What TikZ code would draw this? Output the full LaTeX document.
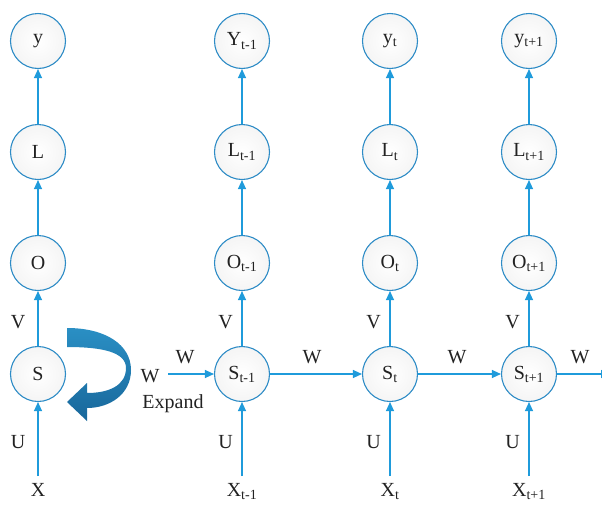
\documentclass[tikz,border=0pt]{standalone}
\usepackage{fontspec}
\setmainfont{Liberation Serif}
\usetikzlibrary{arrows.meta}
\definecolor{lineblue}{HTML}{1F9BDB}
\definecolor{circblue}{HTML}{2E8CC6}
\definecolor{txt}{HTML}{222222}
\definecolor{bigtop}{HTML}{2A8FC4}
\definecolor{bigbot}{HTML}{18679B}
\tikzset{
  unit/.style={circle, draw=circblue, line width=1.1pt, minimum size=55pt, inner sep=0pt,
    inner color=white, outer color=black!4, text=txt, font=\fontsize{20}{22}\selectfont},
  arr/.style={draw=lineblue, line width=1.2pt, -{Triangle[length=9pt,width=8pt]}},
  lab/.style={anchor=base, text=txt, inner sep=0pt, font=\fontsize{20}{22}\selectfont},
}
\begin{document}
\begin{tikzpicture}[x=1pt,y=-1pt]
\useasboundingbox (0,0) rectangle (602,504);
% left folded column
\node[unit] (y0) at (38,41) {y};
\node[unit] (L0) at (38,152) {L};
\node[unit] (O0) at (38,263) {O};
\node[unit] (S0) at (38,374) {S};
% unfolded columns
\foreach \n/\x/\Yl/\s in {a/242/Y/t-1, b/390/y/t, c/529/y/t+1}{
  \node[unit] (y\n) at (\x,41) {\Yl\textsubscript{\s}};
  \node[unit] (L\n) at (\x,152) {L\textsubscript{\s}};
  \node[unit] (O\n) at (\x,263) {O\textsubscript{\s}};
  \node[unit] (S\n) at (\x,374) {S\textsubscript{\s}};
  \node[lab] (X\n) at (\x,496) {X\textsubscript{\s}};
  \coordinate (in\n) at (\x,476);
  \node[lab] (V\n) at (\x-16.5,328) {V};
  \node[lab] (U\n) at (\x-16.5,448) {U};
  \draw[arr] (in\n) -- (S\n);
  \draw[arr] (S\n) -- (O\n);
  \draw[arr] (O\n) -- (L\n);
  \draw[arr] (L\n) -- (y\n);
}
\node[lab] (X0) at (38,496) {X};
\coordinate (in0) at (38,476);
\node[lab] (V0) at (18,328) {V};
\node[lab] (U0) at (18,448) {U};
\draw[arr] (in0) -- (S0);
\draw[arr] (S0) -- (O0);
\draw[arr] (O0) -- (L0);
\draw[arr] (L0) -- (y0);
% recurrent fold arrow
\shade[top color=bigtop, bottom color=bigbot]
  (67,328) .. controls (106,328) and (131,345) .. (131,370)
  .. controls (131,394) and (110,408) .. (87,408)
  -- (87,421) -- (67,402) -- (87,383) -- (87,393)
  .. controls (108,393) and (126,386) .. (126,368)
  .. controls (126,352) and (102,347) .. (67,347) -- cycle;
\node[lab] (Wf) at (150,382) {W};
\node[lab] (Ex) at (173,408) {Expand};
% horizontal connections
\coordinate (win) at (168,374);
\coordinate (wout) at (610,374);
\draw[arr] (win) -- (Sa);
\draw[arr] (Sa) -- (Sb);
\draw[arr] (Sb) -- (Sc);
\draw[arr] (Sc) -- (wout);
\node[lab] (W1) at (185,363) {W};
\node[lab] (W2) at (312,363) {W};
\node[lab] (W3) at (457,363) {W};
\node[lab] (W4) at (580,363) {W};
\end{tikzpicture}
\end{document}
